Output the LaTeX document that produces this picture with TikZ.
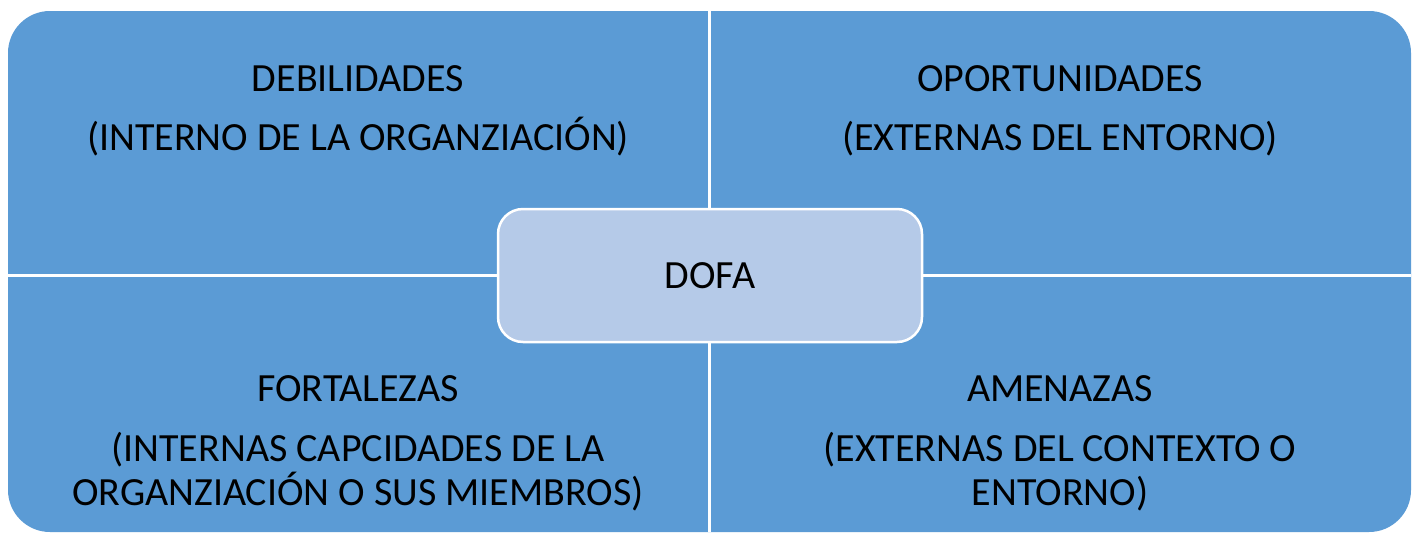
\documentclass[tikz,border=0pt]{standalone}
\usepackage{fontspec}
\setmainfont{Carlito}
\definecolor{quad}{HTML}{5B9BD5}
\definecolor{core}{HTML}{B5CAE8}
\begin{document}
\begin{tikzpicture}[x=1pt,y=-1pt,
  lbl/.style={inner sep=0pt,anchor=base,font=\fontsize{40}{46}\selectfont,text=black}]
\useasboundingbox (0,0) rectangle (1413,533);
\fill[white] (0,0) rectangle (1413,533);
% outer shape
\fill[quad,rounded corners=42pt] (8,11) rectangle (1411,532);
% dividers
\draw[white,line width=3pt] (709,11) -- (709,532);
\draw[white,line width=3pt] (8,275) -- (1411,275);
% centre box
\node[draw=white,line width=2.5pt,fill=core,rounded corners=25pt,
  minimum width=424pt,minimum height=133pt,inner sep=0pt] (dofa) at (710,275.5) {};
\node[lbl] (dofat) at (710,288) {DOFA};
% texts
\node[lbl] (d1) at (358,91) {DEBILIDADES};
\node[lbl] (d2) at (358,150) {(INTERNO DE LA ORGANZIACIÓN)};
\node[lbl] (o1) at (1060,91) {OPORTUNIDADES};
\node[lbl] (o2) at (1060,150) {(EXTERNAS DEL ENTORNO)};
\node[lbl] (f1) at (358,401) {FORTALEZAS};
\node[lbl] (f2) at (358,461) {(INTERNAS CAPCIDADES DE LA};
\node[lbl] (f3) at (358,505) {ORGANZIACIÓN O SUS MIEMBROS)};
\node[lbl] (a1) at (1060,401) {AMENAZAS};
\node[lbl] (a2) at (1060,461) {(EXTERNAS DEL CONTEXTO O};
\node[lbl] (a3) at (1060,505) {ENTORNO)};
\end{tikzpicture}
\end{document}
